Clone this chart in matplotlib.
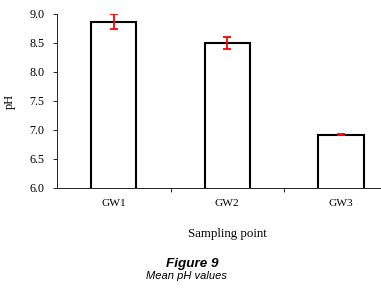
import matplotlib
matplotlib.use("Agg")
import matplotlib.pyplot as plt
from matplotlib.ticker import FixedLocator, NullFormatter

# Mean pH per sampling point, with error bars
sites = ["GW1", "GW2", "GW3"]
mean_ph = [8.87, 8.50, 6.92]
ph_err = [0.13, 0.10, 0.01]
yticks = [6.0, 6.5, 7.0, 7.5, 8.0, 8.5, 9.0]

plt.rcParams["font.family"] = ["Liberation Serif", "DejaVu Serif"]

fig = plt.figure(figsize=(3.81, 2.91), dpi=100)
ax = fig.add_axes([0.1496, 0.354, 0.894, 0.598])

x = list(range(len(sites)))
ax.bar(x, mean_ph, width=0.4, bottom=0, color="white", edgecolor="black",
       linewidth=1.5, zorder=2)
ax.errorbar(x, mean_ph, yerr=ph_err, fmt="none", ecolor="red",
            elinewidth=1.3, capsize=2.6, capthick=1.3, zorder=3)

ax.set_ylim(6.0, 9.0)
ax.set_xlim(-0.5, 2.5)
ax.set_yticks(yticks)
ax.set_yticklabels([f"{v:.1f}" for v in yticks], fontsize=8.7)
ax.set_xticks(x)
ax.set_xticklabels(sites, fontsize=8.2)
ax.tick_params(axis="x", which="major", length=0, pad=8)
ax.xaxis.set_minor_locator(FixedLocator([0.5, 1.5]))
ax.xaxis.set_minor_formatter(NullFormatter())
ax.tick_params(axis="x", which="minor", length=3, width=0.6, direction="out")
ax.tick_params(axis="y", length=3, width=0.6, direction="out", pad=6)

for side in ("top", "right"):
    ax.spines[side].set_visible(False)
for side in ("left", "bottom"):
    ax.spines[side].set_linewidth(0.6)

ax.set_ylabel("pH", fontsize=9, labelpad=10)
ax.set_xlabel("Sampling point", fontsize=9.3, labelpad=14)

fig.text(0.505, 0.093, "Figure 9", ha="center", va="center", fontsize=9.7,
         style="italic", weight="bold", family=["Liberation Sans", "DejaVu Sans"])
fig.text(0.489, 0.052, "Mean pH values", ha="center", va="center", fontsize=8,
         style="italic", family=["Liberation Sans", "DejaVu Sans"])

fig.savefig("out.png", dpi=100)
